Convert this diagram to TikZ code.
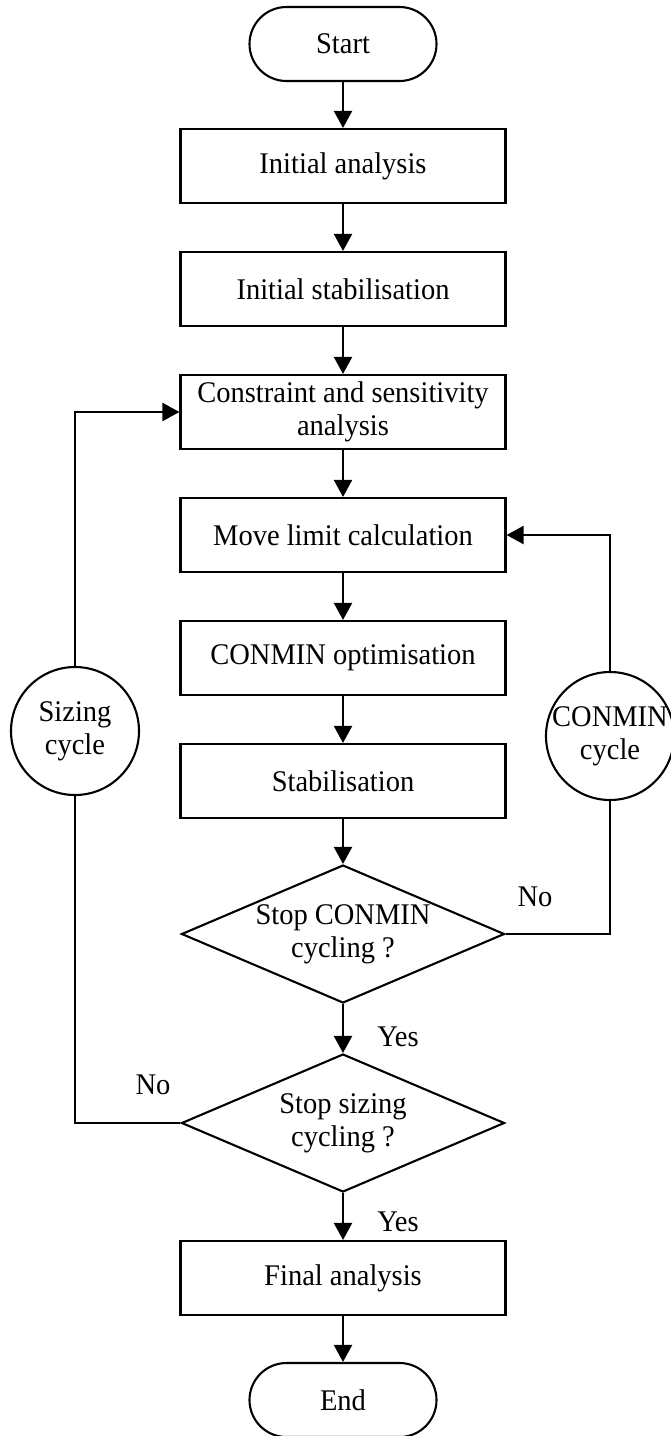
\documentclass[tikz,border=0pt]{standalone}
\usepackage{fontspec}
\setmainfont{Liberation Serif}[FakeStretch=0.95]
\usetikzlibrary{arrows.meta,shapes.geometric}
\begin{document}
\begin{tikzpicture}[x=1pt,y=-1pt,
  font=\fontsize{30}{33}\selectfont,
  line width=2.1pt,
  box/.style={draw, rectangle, minimum width=325pt, minimum height=74pt, inner sep=2pt, align=center},
  term/.style={draw, rectangle, rounded corners=37pt, minimum width=187pt, minimum height=74pt},
  dia/.style={draw, diamond, minimum width=323pt, minimum height=138pt, inner sep=0pt, aspect=2.34},
  cyc/.style={draw, circle, minimum size=128pt, inner sep=0pt},
  arr/.style={-{Triangle[length=17pt,width=18pt]}},
  lbl/.style={inner sep=0pt}]
\useasboundingbox (0,0) rectangle (670,1436);

\node[term] (start) at (343,44) {Start};
\node[box] (ia) at (343,166) {Initial analysis};
\node[box] (is) at (343,289) {Initial stabilisation};
\node[box] (csa) at (343,412) {Constraint and sensitivity\\analysis};
\node[box] (ml) at (343,535) {Move limit calculation};
\node[box] (co) at (343,658) {CONMIN optimisation};
\node[box] (st) at (343,781) {Stabilisation};
\node[dia, label={[align=center]center:Stop CONMIN\\cycling ?}] (d1) at (343,934) {};
\node[dia, label={[align=center]center:Stop sizing\\cycling ?}] (d2) at (343,1123) {};
\node[box] (fa) at (343,1278) {Final analysis};
\node[term] (end) at (343,1400) {End};

\node[cyc, label={[align=center]center:Sizing\\cycle}] (sc) at (75,731) {};
\node[cyc, label={[align=center]center:CONMIN\\cycle}] (cc) at (610,736) {};

\draw[arr] (start) -- (ia);
\draw[arr] (ia) -- (is);
\draw[arr] (is) -- (csa);
\draw[arr] (csa) -- (ml);
\draw[arr] (ml) -- (co);
\draw[arr] (co) -- (st);
\draw[arr] (st) -- (d1);
\draw[arr] (d1) -- (d2);
\draw[arr] (d2) -- (fa);
\draw[arr] (fa) -- (end);

\draw (d1.east) -| (cc.south);
\draw[arr] (cc.north) |- (ml.east);
\draw (d2.west) -| (sc.south);
\draw[arr] (sc.north) |- (csa.west);

\node[lbl] (yes1) at (398,1037) {Yes};
\node[lbl] (yes2) at (398,1222) {Yes};
\node[lbl] (no1) at (535,897) {No};
\node[lbl] (no2) at (153,1085) {No};
\end{tikzpicture}
\end{document}
